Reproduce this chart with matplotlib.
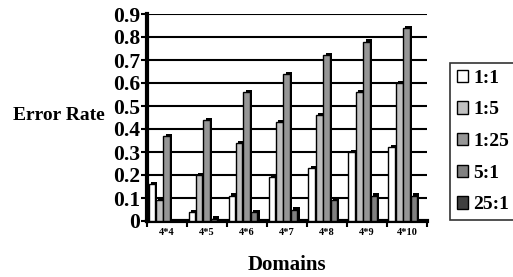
import matplotlib
matplotlib.use("Agg")
import matplotlib.pyplot as plt
import numpy as np

categories = ["4*4", "4*5", "4*6", "4*7", "4*8", "4*9", "4*10"]
series_names = ["1:1", "1:5", "1:25", "5:1", "25:1"]
s_1_1 = [0.16, 0.04, 0.11, 0.19, 0.23, 0.30, 0.32]
s_1_5 = [0.09, 0.20, 0.34, 0.43, 0.46, 0.56, 0.60]
s_1_25 = [0.37, 0.44, 0.56, 0.64, 0.72, 0.78, 0.84]
s_5_1 = [0.0, 0.01, 0.04, 0.05, 0.09, 0.11, 0.11]
s_25_1 = [0.0, 0.0, 0.0, 0.0, 0.0, 0.0, 0.0]
colors = ["#ffffff", "#c0c0c0", "#969696", "#808080", "#404040"]
yticks = [0, 0.1, 0.2, 0.3, 0.4, 0.5, 0.6, 0.7, 0.8, 0.9]
ytick_labels = ["0", "0.1", "0.2", "0.3", "0.4", "0.5", "0.6", "0.7", "0.8", "0.9"]

data = [s_1_1, s_1_5, s_1_25, s_5_1, s_25_1]

plt.rcParams['font.family'] = ['Liberation Serif', 'DejaVu Serif']
plt.rcParams['font.weight'] = 'bold'

fig = plt.figure(figsize=(5.13, 2.77), dpi=100)
ax = fig.add_axes([147/513, 1-221/277, 280/513, (221-14)/277])

n = len(categories)
x = np.arange(n)
w = 0.165
dx = 0.055
dy = 0.01
offsets = np.array([-2, -1, 0, 1, 2]) * 0.185

for i, (vals, c, name) in enumerate(zip(data, colors, series_names)):
    xs = x + 0.49 + offsets[i]
    ax.bar(xs + dx, np.array(vals) + dy, width=w, bottom=0, color="black",
           zorder=3 + 2*i, linewidth=0)
    ax.bar(xs, vals, width=w, color=c, edgecolor="black", linewidth=1.0,
           zorder=4 + 2*i, label=name)

ax.set_xlim(0, n)
ax.set_ylim(0, 0.9)
ax.set_yticks(yticks)
ax.set_yticklabels(ytick_labels, fontsize=15.5, fontweight='bold')
ax.set_xticks(np.arange(n + 1))
ax.set_xticklabels([])
ax.set_xticks(x + 0.5, minor=True)
ax.set_xticklabels(categories, minor=True, fontsize=7.5, fontweight='bold')
ax.tick_params(axis='x', which='minor', length=0, pad=5)
ax.tick_params(axis='x', which='major', length=4, width=1.5, direction='out')
ax.tick_params(axis='y', length=4, width=1.5, pad=1)
ax.yaxis.grid(True, color='black', linewidth=1.5, zorder=1)
ax.set_axisbelow(True)
for s in ['top', 'right']:
    ax.spines[s].set_visible(False)
ax.spines['left'].set_linewidth(3)
ax.spines['bottom'].set_linewidth(3)

ax.set_ylabel("Error Rate", fontsize=14, fontweight='bold', rotation=0,
              va='center', ha='center')
ax.yaxis.set_label_coords(-0.315, 0.51)
ax.set_xlabel("Domains", fontsize=15, fontweight='bold', labelpad=13)

leg = fig.legend(loc='upper left', bbox_to_anchor=(450/513, 1-63/277),
                 borderaxespad=0,
                 frameon=True, fancybox=False, edgecolor='black',
                 prop={'size': 14, 'weight': 'bold'}, handlelength=0.6,
                 handleheight=0.6, labelspacing=0.75, handletextpad=0.25,
                 borderpad=0.35)
leg.get_frame().set_linewidth(1.2)

fig.savefig("out.png", dpi=100)
